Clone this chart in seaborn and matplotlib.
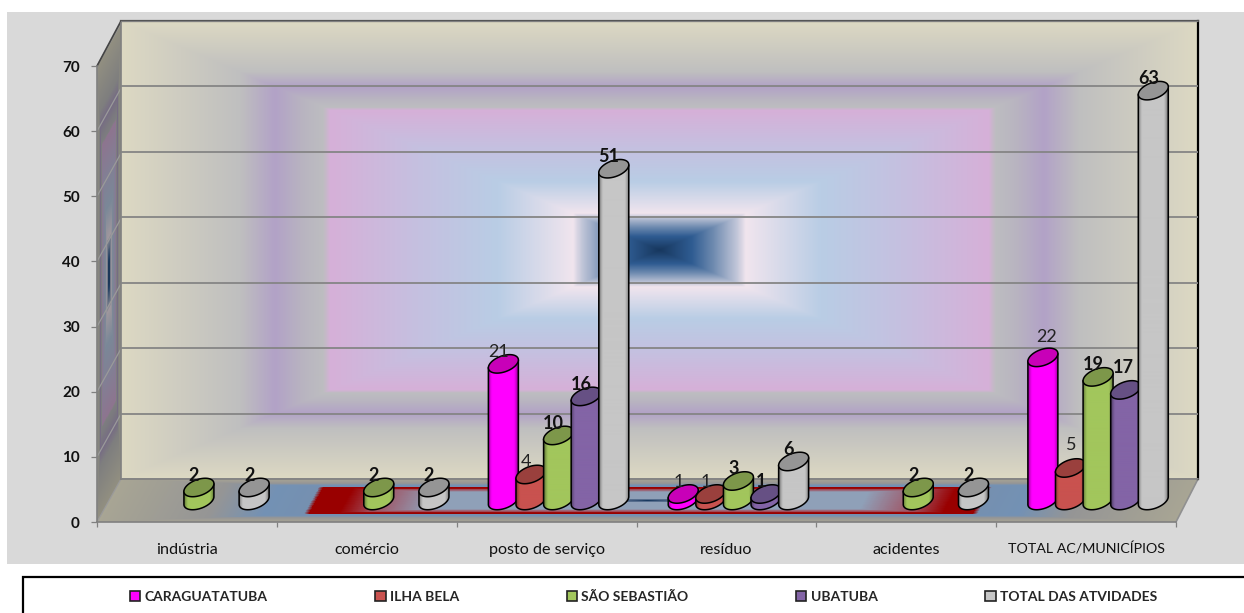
import numpy as np
import pandas as pd
import matplotlib
matplotlib.use("Agg")
import matplotlib.pyplot as plt
from matplotlib.colors import LinearSegmentedColormap, to_rgb
from matplotlib.patches import Polygon, Rectangle
import seaborn as sns

CATEGORIES = ["indústria", "comércio", "posto de serviço", "resíduo", "acidentes", "TOTAL AC/MUNICÍPIOS"]
SERIES = ["CARAGUATATUBA", "ILHA BELA", "SÃO SEBASTIÃO", "UBATUBA", "TOTAL DAS ATVIDADES"]
CARAGUATATUBA = [np.nan, np.nan, 21, 1, np.nan, 22]
ILHA_BELA = [np.nan, np.nan, 4, 1, np.nan, 5]
SAO_SEBASTIAO = [2, 2, 10, 3, 2, 19]
UBATUBA = [np.nan, np.nan, 16, 1, np.nan, 17]
TOTAL_ATIVIDADES = [2, 2, 51, 6, 2, 63]
VALUES = [CARAGUATATUBA, ILHA_BELA, SAO_SEBASTIAO, UBATUBA, TOTAL_ATIVIDADES]

BODY_COLORS = ["#ff00ff", "#c9524f", "#a2c65c", "#8364a6", "#c6c6c6"]
TOP_COLORS = ["#c800b8", "#9a403d", "#7d974a", "#665084", "#959595"]
LABEL_WEIGHTS = ["normal", "normal", "bold", "bold", "bold"]
LABEL_COLORS = ["#222222", "#222222", "#111111", "#111111", "#111111"]

WALL_STOPS = [(0.0, "#17375e"), (0.06, "#2f5c92"), (0.10, "#6f8bb0"), (0.145, "#c4c8da"),
              (0.16, "#f1e5ee"), (0.30, "#b9cde5"), (0.45, "#c5c0e0"), (0.612, "#d6b0d8"),
              (0.625, "#bdbdc0"), (0.66, "#b9b5c0"), (0.715, "#b2a2c7"), (0.78, "#bfbfbf"),
              (1.0, "#ddd9c3")]
FLOOR_STOPS = [(0.0, "#17375e"), (0.025, "#3a5478"), (0.10, "#8fa0b8"), (0.40, "#8fa0b8"),
               (0.50, "#a05060"), (0.56, "#990000"), (0.615, "#990000"), (0.625, "#7590b0"),
               (0.70, "#7391b4"), (0.80, "#959595"), (1.0, "#a8a594")]

W, H = 1244, 613
sns.set_theme(style="white")
plt.rcParams["font.family"] = ["Lato", "DejaVu Sans"]

wall_cmap = LinearSegmentedColormap.from_list("wall", WALL_STOPS, N=1024)
floor_cmap = LinearSegmentedColormap.from_list("floor", FLOOR_STOPS, N=1024)
side_cmap = LinearSegmentedColormap.from_list(
    "side", [(t, tuple(0.66 * c for c in to_rgb(col))) for t, col in WALL_STOPS], N=1024)

fig = plt.figure(figsize=(W / 100, H / 100), dpi=100, facecolor="white")


def axes_at(x0, y0, x1, y1, zorder):
    ax = fig.add_axes([x0 / W, 1 - y1 / H, (x1 - x0) / W, (y1 - y0) / H], zorder=zorder)
    ax.patch.set_visible(False)
    return ax


# Panel, side wall and floor share one pixel-addressed layer
ax_bg = axes_at(0, 0, W, H, 0)
ax_bg.set_xlim(0, W)
ax_bg.set_ylim(H, 0)
ax_bg.axis("off")
ax_bg.add_patch(Rectangle((7, 12), W - 7, 552, fc="#d9d9d9", ec="none"))
ax_bg.add_patch(Rectangle((23, 577), W, 60, fc="white", ec="black", lw=1.6))

FX0, FX1, FY0, FY1 = 97, 1176, 522, 66        # front plane
BX0, BX1, BY0, BY1 = 121, 1198, 479, 21       # back plane
DX, DY = BX0 - FX0, FY0 - BY0

uu, vv = np.meshgrid(np.linspace(0, 1, 90), np.linspace(0, 1, 500), indexing="xy")
side_x = FX0 + DX * uu
side_y = FY0 - DY * uu - (FY0 - FY1) * vv
tc = (uu[:-1, :-1] + uu[1:, 1:]) / 2
vc = (vv[:-1, :-1] + vv[1:, 1:]) / 2
ax_bg.pcolormesh(side_x, side_y, np.maximum(abs(2 * tc - 1), abs(2 * vc - 1)),
                 cmap=side_cmap, vmin=0, vmax=1, shading="flat")

ss, uu = np.meshgrid(np.linspace(0, 1, 1100), np.linspace(0, 1, 120), indexing="xy")
floor_x = FX0 + (FX1 - FX0) * ss + DX * uu + (BX1 - BX0 - FX1 + FX0) * ss * uu
floor_y = FY0 - DY * uu
sc = (ss[:-1, :-1] + ss[1:, 1:]) / 2
uc = (uu[:-1, :-1] + uu[1:, 1:]) / 2
ax_bg.pcolormesh(floor_x, floor_y, np.maximum(abs(2 * sc - 1), abs(2 * uc - 1)),
                 cmap=floor_cmap, vmin=0, vmax=1, shading="flat")

# Back wall with its gridlines
ax_back = axes_at(BX0, BY1, BX1, BY0, 1)
xg, yg = np.meshgrid(np.linspace(-1, 1, 1078), np.linspace(-1, 1, 459))
ax_back.imshow(np.maximum(abs(xg), abs(yg)), cmap=wall_cmap, vmin=0, vmax=1,
               extent=(0, 6, 0, 70), aspect="auto", origin="lower", interpolation="bilinear")
ax_back.set_xlim(0, 6)
ax_back.set_ylim(0, 70)
ax_back.set_xticks([])
ax_back.set_yticks(range(0, 71, 10))
ax_back.tick_params(left=False, labelleft=False)
ax_back.grid(axis="y", color="#858585", lw=1.3)
ax_back.set_axisbelow(False)
for side, colour, lw in [("top", "#555555", 1.6), ("right", "black", 1.6),
                         ("left", "#808080", 1.2), ("bottom", "#808080", 1.2)]:
    ax_back.spines[side].set_color(colour)
    ax_back.spines[side].set_linewidth(lw)

# Depth lines of the side wall and floor edges
for k in range(0, 8):
    yf = FY0 - (FY0 - FY1) * k / 7
    ax_bg.plot([FX0, BX0], [yf, yf - DY], color="#9a9a9a", lw=0.9, zorder=5)
ax_bg.plot([FX0, BX0], [FY1, BY1], color="#444444", lw=1.2, zorder=5)
ax_bg.plot([FX1, BX1], [FY0, BY0], color="#909090", lw=1.2, zorder=5)

# Cylinders stand half-way through the depth of the box
ax_bars = axes_at(FX0 + DX / 2, FY1 - DY / 2 + 0.6, FX1 + DX / 2, FY0 - DY / 2 + 0.0, 2)
frame = pd.DataFrame({
    "categoria": np.repeat(CATEGORIES, len(SERIES)),
    "serie": SERIES * len(CATEGORIES),
    "valor": np.array(VALUES).T.ravel(),
})
sns.barplot(data=frame, x="categoria", y="valor", hue="serie", order=CATEGORIES,
            hue_order=SERIES, palette=BODY_COLORS, width=0.7675, legend=False,
            dodge=True, ax=ax_bars, errorbar=None)
ax_bars.set_xlim(-0.5, 5.5)
ax_bars.set_ylim(0, 70)
ax_bars.axis("off")

PX_X = (FX1 - FX0) / 6
PX_Y = (FY0 - FY1 - 0.6) / 70
A, B, TILT = 15.7, 8.0, np.radians(20)
th = np.linspace(0, 2 * np.pi, 121)
ex = A * np.cos(th) * np.cos(TILT) - B * np.sin(th) * np.sin(TILT)
ey = A * np.cos(th) * np.sin(TILT) + B * np.sin(th) * np.cos(TILT)
i_right, i_left = int(np.argmax(ex)), int(np.argmin(ex))
half_width = ex.max()


def shade_strip(rgb):
    rgb = np.array(to_rgb(rgb))
    pos = np.linspace(-1, 1, 60)
    factor = 1.0 - 0.42 * np.clip((abs(pos) - 0.72) / 0.28, 0, 1) ** 1.5
    return (rgb[None, None, :] * factor[None, :, None]).clip(0, 1)


# Labels that sit higher above their cylinder, by (category, series)
LIFTED = {(5, 0): 20, (5, 1): 23, (5, 3): 22}
LATERAL = {(5, 0): 4, (5, 3): -2, (5, 1): 1}

for s, container in enumerate(ax_bars.containers):
    for bar in container:
        h = bar.get_height()
        bar.set_visible(False)
        if not np.isfinite(h) or h <= 0:
            continue
        cx = bar.get_x() + bar.get_width() / 2
        cat = int(round(cx))
        z = 10 + s * 3
        top_x, top_y = cx + ex / PX_X, h + ey / PX_Y
        base_x, base_y = cx + ex / PX_X, ey / PX_Y
        arc = []
        k = i_right
        while k % 120 != i_left:          # lower half of the base, right to left
            arc.append(k % 120)
            k -= 1
        arc.append(i_left)
        body = [(top_x[i_left], top_y[i_left]), (top_x[i_right], top_y[i_right])]
        body += [(base_x[j], base_y[j]) for j in arc]
        poly = Polygon(body, closed=True, fc="none", ec="black", lw=1.1,
                       joinstyle="round", zorder=z + 1, clip_on=False)
        ax_bars.add_patch(poly)
        img = ax_bars.imshow(shade_strip(BODY_COLORS[s]), aspect="auto", zorder=z,
                             extent=(cx - half_width / PX_X, cx + half_width / PX_X, -10, h + 10),
                             interpolation="bilinear")
        img.set_clip_box(fig.bbox)
        img.set_clip_path(poly)
        ax_bars.add_patch(Polygon(np.column_stack([top_x, top_y]), closed=True, clip_on=False,
                                  fc=TOP_COLORS[s], ec="black", lw=1.1, zorder=z + 2))
        ax_bars.annotate(f"{int(h)}", (cx, h), xycoords="data",
                         xytext=(LATERAL.get((cat, s), -5) * 0.72, LIFTED.get((cat, s), 12) * 0.72),
                         textcoords="offset points", ha="center", va="center",
                         fontsize=13, fontweight=LABEL_WEIGHTS[s], color=LABEL_COLORS[s],
                         zorder=40)
ax_bars.set_xlim(-0.5, 5.5)
ax_bars.set_ylim(0, 70)

# Value and category axes on the front plane
ax_front = axes_at(FX0, FY1, FX1, FY0, 3)
ax_front.set_xlim(0, 6)
ax_front.set_ylim(0, 70)
ax_front.set_yticks(range(0, 71, 10))
ax_front.set_xticks(range(0, 7))
ax_front.set_xticklabels([])
ax_front.set_xticks(np.arange(6) + 0.5, labels=CATEGORIES, minor=True)
ax_front.tick_params(axis="y", length=4.3, width=0.9, color="#808080", pad=8, labelsize=11,
                     left=True, labelcolor="#111111")
ax_front.tick_params(axis="x", which="major", length=3.6, width=0.9, color="#808080", bottom=True)
ax_front.tick_params(axis="x", which="minor", length=0, pad=15, labelsize=11.6, labelcolor="#111111")
ax_front.get_xticklabels(minor=True)[-1].set_fontsize(10.3)
for label in ax_front.get_yticklabels():
    label.set_fontweight("bold")
ax_front.spines["top"].set_visible(False)
ax_front.spines["right"].set_visible(False)
ax_front.spines["left"].set_color("#808080")
ax_front.spines["bottom"].set_color("#808080")
ax_front.spines["left"].set_linewidth(1.2)
ax_front.spines["bottom"].set_linewidth(1.2)

handles = [Rectangle((0, 0), 1, 1, fc=c, ec="#222222", lw=1.2) for c in BODY_COLORS]
fig.legend(handles, SERIES, ncol=5, loc="center left", bbox_to_anchor=(130 / W, 1 - 597 / H),
           frameon=False, prop={"weight": "bold", "size": 10.0}, handlelength=0.75, handleheight=0.75,
           handletextpad=0.3, columnspacing=7.75, borderpad=0, borderaxespad=0)

fig.savefig("out.png", dpi=100, facecolor="white")
